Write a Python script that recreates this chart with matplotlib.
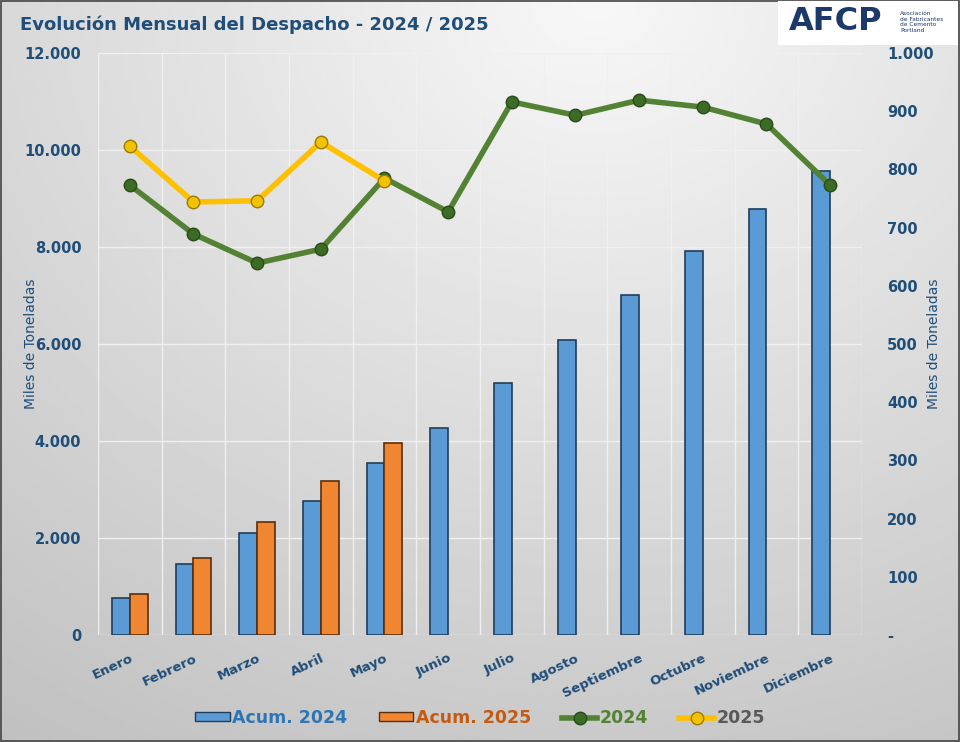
import numpy as np
import matplotlib
matplotlib.use('Agg')
import matplotlib.pyplot as plt
from matplotlib.patches import Rectangle, Patch
from matplotlib.lines import Line2D
from matplotlib.ticker import FuncFormatter, MultipleLocator

meses = ['Enero', 'Febrero', 'Marzo', 'Abril', 'Mayo', 'Junio', 'Julio',
         'Agosto', 'Septiembre', 'Octubre', 'Noviembre', 'Diciembre']
acum_2024 = [773, 1462, 2101, 2764, 3549, 4276, 5192, 6085, 7004, 7911, 8789, 9562]
acum_2025 = [840, 1584, 2330, 3177, 3957]
mes_2024 = [773, 689, 639, 663, 785, 727, 916, 893, 919, 907, 878, 773]
mes_2025 = [840, 744, 746, 847, 780]

navy = '#1F4E79'
fig = plt.figure(figsize=(9.6, 7.42), dpi=100)

# gradient background
bg = fig.add_axes([0, 0, 1, 1], zorder=-10)
yy, xx = np.mgrid[0:1:300j, 0:1:300j]
val = 0.97 - 0.18 * np.sqrt(((xx - 0.62) * 1.1) ** 2 + ((yy - 0.0) * 1.0) ** 2)
bg.imshow(val, cmap='gray', vmin=0, vmax=1, aspect='auto', extent=[0, 1, 0, 1],
          origin='upper')
bg.set_xlim(0, 1)
bg.set_ylim(0, 1)
bg.axis('off')
bg.add_patch(Rectangle((0.001, 0.001), 0.998, 0.998, fill=False, ec='#444444', lw=1.2))

# logo box
bg.add_patch(Rectangle((778 / 960, 1 - 45 / 742), 180 / 960, 44 / 742,
                       fc='white', ec='none'))
bg.text(789 / 960, 1 - 22 / 742, 'AFCP', fontsize=23, fontweight='bold',
        color='#1B3A6B', va='center', ha='left', family='DejaVu Sans')
bg.text(900 / 960, 1 - 22 / 742, 'Asociación\nde Fabricantes\nde Cemento\nPortland',
        fontsize=4.2, color='#1B3A6B', va='center', ha='left', linespacing=1.1)

fig.text(20 / 960, 1 - 25 / 742, 'Evolución Mensual del Despacho - 2024 / 2025',
         fontsize=13, fontweight='bold', color=navy, va='center', ha='left')

ax = fig.add_axes([98 / 960, 107 / 742, 764 / 960, 582 / 742])
ax.patch.set_alpha(0)
x = np.arange(len(meses))
w = 0.28
ax.bar(x - w / 2, acum_2024, width=w, color='#5B9BD5', edgecolor='#1F3D5C',
       linewidth=1.2, zorder=3, label='Acum. 2024')
ax.bar(np.arange(len(acum_2025)) + w / 2, acum_2025, width=w, color='#F08532',
       edgecolor='#5A2E0B', linewidth=1.2, zorder=3, label='Acum. 2025')
ax.set_xlim(-0.5, 11.5)
ax.set_ylim(0, 12000)
ax.yaxis.set_major_locator(MultipleLocator(2000))
ax.yaxis.set_major_formatter(FuncFormatter(lambda v, p: f'{int(v):,}'.replace(',', '.')))
ax.set_xticks(x)
ax.set_xticklabels(meses, rotation=25, ha='right', rotation_mode='anchor',
                   fontsize=9.5, fontweight='bold', color=navy)
for v in np.arange(-0.5, 12, 1):
    ax.axvline(v, color='#f0f0f0', lw=1, zorder=1)
for v in range(0, 12001, 2000):
    ax.axhline(v, color='#f0f0f0', lw=1, zorder=1)
ax.tick_params(axis='x', length=0, pad=12)
ax.tick_params(axis='y', length=0, pad=12, labelsize=10.5, labelcolor=navy)
for lab in ax.get_yticklabels():
    lab.set_fontweight('bold')
for s in ax.spines.values():
    s.set_visible(False)
ax.set_ylabel('Miles de Toneladas', color=navy, fontsize=10)
ax.yaxis.set_label_coords(-0.079, 0.5)

ax2 = ax.twinx()
ax2.plot(x, mes_2024, color='#548235', lw=4, marker='o', markersize=9,
         markerfacecolor='#3C6B25', markeredgecolor='#2A4A1A', zorder=4)
ax2.plot(np.arange(len(mes_2025)), mes_2025, color='#FFC000', lw=4, marker='o',
         markersize=9, markerfacecolor='#F2C200', markeredgecolor='#9A7A00', zorder=5)
ax2.set_ylim(0, 1000)
ax2.yaxis.set_major_locator(MultipleLocator(100))
ax2.yaxis.set_major_formatter(FuncFormatter(
    lambda v, p: '-' if v == 0 else f'{int(v):,}'.replace(',', '.')))
ax2.tick_params(axis='y', length=0, pad=18, labelsize=10.5, labelcolor=navy)
for lab in ax2.get_yticklabels():
    lab.set_fontweight('bold')
for s in ax2.spines.values():
    s.set_visible(False)
ax2.set_ylabel('Miles de Toneladas', color=navy, fontsize=10)
ax2.yaxis.set_label_coords(1.085, 0.5)

handles = [
    Patch(facecolor='#5B9BD5', edgecolor='#1F3D5C'),
    Patch(facecolor='#F08532', edgecolor='#5A2E0B'),
    Line2D([], [], color='#548235', lw=4, marker='o', markersize=9,
           markerfacecolor='#3C6B25', markeredgecolor='#2A4A1A'),
    Line2D([], [], color='#FFC000', lw=4, marker='o', markersize=9,
           markerfacecolor='#F2C200', markeredgecolor='#9A7A00'),
]
leg = fig.legend(handles, ['Acum. 2024', 'Acum. 2025', '2024', '2025'],
                 loc='center', bbox_to_anchor=(0.5, 1 - 718 / 742), ncol=4,
                 frameon=False, fontsize=12.5, handlelength=2.0, handleheight=0.45,
                 handletextpad=0.15, columnspacing=1.8,
                 labelcolor=['#2E75B6', '#C55A11', '#548235', '#595959'])
for t in leg.get_texts():
    t.set_fontweight('bold')

fig.savefig('out.png', dpi=100)
